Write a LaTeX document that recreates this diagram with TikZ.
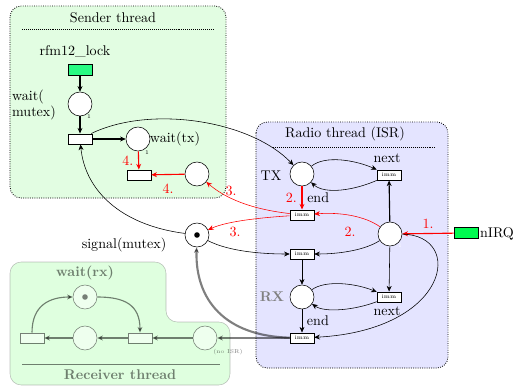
\documentclass[tikz,border=0pt]{standalone}
\usetikzlibrary{arrows.meta}
\definecolor{senderbg}{RGB}{226,253,226}
\definecolor{radiobg}{RGB}{228,228,255}
\definecolor{lockgreen}{RGB}{40,250,130}
\definecolor{irqgreen}{RGB}{0,250,80}
\begin{document}
\begin{tikzpicture}[x=0.025cm,y=-0.025cm,>={Stealth[length=4pt,width=3.5pt]},
    place/.style={circle,draw,fill=white,minimum size=0.6cm,inner sep=0pt},
    trans/.style={rectangle,draw,fill=white,minimum width=0.6cm,minimum height=0.26cm,inner sep=0pt,font=\fontsize{4}{4}\selectfont},
    signal/.style={rectangle,draw,minimum width=0.6cm,minimum height=0.28cm,inner sep=0pt},
    tiny1/.style={font=\fontsize{4}{4}\selectfont},
    threadbox/.style={densely dotted,semithick,rounded corners=8pt}]
      \useasboundingbox (0,0) rectangle (514,387);
      % thread boxes
      \draw[threadbox,fill=senderbg] (10,6) rectangle (226,198);
      \node at (113,18) {Sender thread};
      \draw[densely dotted] (22,29) -- (214,29);
      \draw[threadbox,fill=radiobg] (256,122) rectangle (448,368);
      \node at (345,134) {Radio thread (ISR)};
      \draw[densely dotted] (273,147) -- (435,147);
      % sender thread
      \node (lockl) at (75,52) {rfm12\_lock};
      \node[signal,fill=lockgreen] (lock) at (80,70) {};
      \node[place] (waitmutex) at (80,104) {};
      \node[align=left] at (34,105) {wait(\\mutex)};
      \node[tiny1] at (89,117) {1};
      \node[trans] (tsend) at (80,139) {};
      \node[place] (waittx) at (138,139) {};
      \node at (175,139) {wait(tx)};
      \node[tiny1] at (147,153) {1};
      \node[trans] (ttx) at (139,175) {};
      \node[place] (txdone) at (197,174) {};
      \draw[thick,->] (lock) -- (waitmutex);
      \draw[thick,->] (waitmutex) -- (tsend);
      \draw[thick,->] (tsend) -- (waittx);
      \draw[red,thick,->] (waittx) -- (ttx) node[midway,left] {4.};
      \draw[red,thick,->] (txdone) -- (ttx) node[midway,below=3pt] {4.};
      % radio thread
      \node[place] (tx) at (302,174) {};
      \node at (271,176) {TX};
      \node[white,tiny1] at (313,187) {1};
      \node[trans] (tnext) at (389,175) {imm};
      \node at (387,158) {next};
      \node[trans] (tend) at (302,215) {imm};
      \node[place] (isr) at (390,234) {};
      \node[white,tiny1] at (400,246) {1};
      \node[signal,fill=irqgreen] (irq) at (466,233) {};
      \node at (497,234) {nIRQ};
      \node[place] (sig) at (197,235) {};
      \fill (sig.center) circle (0.07cm);
      \node at (124,245) {signal(mutex)};
      \node[trans] (trx) at (302,254) {imm};
      \node[place] (rx) at (302,297) {};
      \node[gray,font=\bfseries] at (272,297) {RX};
      \node[trans] (tnextrx) at (389,297) {imm};
      \node at (387,311) {next};
      \node[trans] (tendrx) at (302,338) {imm};
      \draw[->] (tsend) .. controls (150,105) and (250,120) .. (tx);
      \draw[->] (sig) .. controls (120,225) and (85,190) .. (tsend);
      \draw[->] (tx) .. controls (325,155) and (355,160) .. (tnext);
      \draw[->] (tnext) .. controls (355,190) and (325,195) .. (tx);
      \draw[red,thick,->] (tx) -- (tend) node[midway,left] {2.} node[midway,right,text=black] {end};
      \draw[thick,->] (isr) -- (tnext);
      \draw[red,thick,->] (irq) -- (isr) node[midway,above] {1.};
      \draw[red,->] (isr) .. controls (365,216) and (340,212) .. (tend);
      \node[red] at (350,232) {2.};
      \draw[red,->] (tend) .. controls (250,209) and (225,198) .. (txdone);
      \node[red] at (231,191) {3.};
      \draw[red,->] (tend) .. controls (255,218) and (225,222) .. (sig);
      \node[red] at (235,232) {3.};
      \draw[->] (sig) .. controls (230,252) and (265,254) .. (trx);
      \draw[->] (isr) .. controls (365,250) and (340,254) .. (trx);
      \draw[->] (trx) -- (rx);
      \draw[->] (isr) -- (tnextrx);
      \draw[->] (rx) .. controls (325,280) and (355,283) .. (tnextrx);
      \draw[->] (tnextrx) .. controls (355,310) and (325,313) .. (rx);
      \draw[->] (rx) -- (tendrx) node[midway,right] {end};
      \draw[->] (isr) .. controls (465,235) and (450,330) .. (tendrx);
      % receiver thread (faded)
      \begin{scope}[opacity=0.5]
        \draw[gray,fill=green!25,rounded corners=8pt] (10,262) -- (166,262) -- (166,322) -- (230,322) -- (230,385) -- (10,385) -- cycle;
        \node at (85,273) {\bfseries wait(rx)};
        \node at (120,375) {\bfseries Receiver thread};
        \draw (22,364) -- (220,364);
        \node[place] (rwait) at (85,297) {};
        \fill (rwait.center) circle (0.07cm);
        \node[trans] (rt1) at (32,338) {};
        \node[place] (rp1) at (85,338) {};
        \node[trans] (rt2) at (140,338) {};
        \node[place] (rp2) at (205,338) {};
        \node[tiny1] at (228,352) {(no ISR)};
        \draw[thick,->] (rp2) -- (rt2);
        \draw[thick,->] (rt2) -- (rp1);
        \draw[thick,->] (rp1) -- (rt1);
        \draw[thick,->] (rt1) .. controls (32,305) and (50,297) .. (rwait);
        \draw[thick,->] (rwait) .. controls (125,297) and (140,305) .. (rt2);
        \draw[line width=1.5pt,->] (tendrx) -- (rp2);
        \draw[line width=1.5pt,->] (tendrx) .. controls (225,336) and (195,300) .. (sig);
      \end{scope}
    \end{tikzpicture}
\end{document}
